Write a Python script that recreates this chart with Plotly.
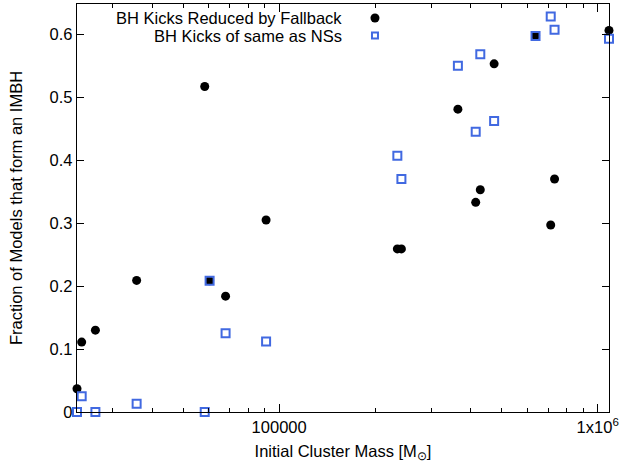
import numpy as np
import plotly.graph_objects as go

# Initial cluster masses (Msun)
mass = [23200, 24000, 26500, 35700, 58400, 60500, 67900, 91000,
        235000, 242000, 364000, 414000, 428000, 473000, 638000,
        712000, 732000, 1085000]
# Fraction of models forming an IMBH
frac_fallback = [0.037, 0.111, 0.130, 0.209, 0.517, 0.2085, 0.184, 0.305,
                 0.259, 0.259, 0.481, 0.333, 0.353, 0.553, 0.598,
                 0.297, 0.370, 0.606]
frac_ns_kicks = [0.0, 0.025, 0.0, 0.013, 0.0, 0.2085, 0.125, 0.112,
                 0.407, 0.370, 0.550, 0.445, 0.568, 0.462, 0.597,
                 0.628, 0.607, 0.593]

series_names = ["BH Kicks Reduced by Fallback", "BH Kicks of same as NSs"]
y_ticks = [0, 0.1, 0.2, 0.3, 0.4, 0.5, 0.6]
y_ticklabels = ["0", "0.1", "0.2", "0.3", "0.4", "0.5", "0.6"]
x_ticks = [1e5, 1e6]
x_ticklabels = ["100000", "1x10<sup>6</sup>"]
x_minor = [3e4, 4e4, 5e4, 6e4, 7e4, 8e4, 9e4,
           2e5, 3e5, 4e5, 5e5, 6e5, 7e5, 8e5, 9e5]

BLUE = "#4169E1"
FONT = "Liberation Sans, Arial, Helvetica, sans-serif"
FS = 16.5
x_range = [np.log10(23200), np.log10(1085000)]

fig = go.Figure()
fig.add_trace(go.Scatter(
    x=mass, y=frac_fallback, mode="markers", name=series_names[0],
    marker=dict(symbol="circle", size=9, color="black", line=dict(width=0)),
    cliponaxis=False, showlegend=False, hoverinfo="skip"))
fig.add_trace(go.Scatter(
    x=mass, y=frac_ns_kicks, mode="markers", name=series_names[1],
    marker=dict(symbol="square-open", size=8, color=BLUE, line=dict(width=2, color=BLUE)),
    cliponaxis=False, showlegend=False, hoverinfo="skip"))
# invisible trace to carry the mirrored top axis
fig.add_trace(go.Scatter(x=[mass[0]], y=[frac_fallback[0]], xaxis="x2", mode="markers",
                         marker=dict(opacity=0), showlegend=False, hoverinfo="skip"))

# Legend (gnuplot style: right-aligned text, key sample on the right)
lx_text = 0.5025
lx_key = 0.5601
ly = [0.9656, 0.9225]
for i, name in enumerate(series_names):
    fig.add_annotation(text=name, xref="paper", yref="paper", x=lx_text, y=ly[i],
                       xanchor="right", yanchor="middle", showarrow=False,
                       font=dict(family=FONT, size=FS, color="black"))
fig.add_shape(type="circle", xref="paper", yref="paper", xsizemode="pixel", ysizemode="pixel",
              xanchor=lx_key, yanchor=ly[0], x0=-4.5, x1=4.5, y0=-4.5, y1=4.5,
              fillcolor="black", line=dict(width=0))
fig.add_shape(type="rect", xref="paper", yref="paper", xsizemode="pixel", ysizemode="pixel",
              xanchor=lx_key, yanchor=ly[1], x0=-3, x1=3, y0=-3, y1=3,
              fillcolor="rgba(0,0,0,0)", line=dict(width=2, color=BLUE))

fig.update_layout(
    width=623, height=469,
    margin=dict(l=77, r=14, t=4, b=57, pad=0),
    paper_bgcolor="white", plot_bgcolor="white",
    font=dict(family=FONT, size=FS, color="black"),
    hovermode=False,
    xaxis=dict(
        type="log", range=x_range,
        tickvals=x_ticks, ticktext=x_ticklabels,
        ticks="inside", ticklen=8, tickwidth=1, tickcolor="black",
        minor=dict(tickvals=x_minor, ticks="inside", ticklen=4, tickwidth=1, tickcolor="black"),
        showline=True, linecolor="black", linewidth=1.2, mirror=True,
        showgrid=False, zeroline=False, automargin=False,
        title=dict(text="Initial Cluster Mass [M<sub>⊙</sub>]", standoff=10,
                   font=dict(family=FONT, size=FS)),
        tickfont=dict(family=FONT, size=FS),
    ),
    xaxis2=dict(
        type="log", range=x_range, overlaying="x", side="top",
        tickvals=x_ticks, showticklabels=False,
        ticks="inside", ticklen=8, tickwidth=1, tickcolor="black",
        minor=dict(tickvals=x_minor, ticks="inside", ticklen=4, tickwidth=1, tickcolor="black"),
        showline=False, showgrid=False, zeroline=False, automargin=False,
    ),
    yaxis=dict(
        range=[0, 0.648],
        tickvals=y_ticks, ticktext=y_ticklabels,
        ticks="inside", ticklen=7, tickwidth=1, tickcolor="black",
        showline=True, linecolor="black", linewidth=1.2, mirror="ticks",
        showgrid=False, zeroline=False, automargin=False,
        title=dict(text="Fraction of Models that form an IMBH", standoff=22,
                   font=dict(family=FONT, size=FS)),
        tickfont=dict(family=FONT, size=FS),
    ),
)

fig.write_html("out.html", config={"displayModeBar": False, "staticPlot": True},
               post_script="document.body.style.margin='0';document.body.style.overflow='hidden';")
